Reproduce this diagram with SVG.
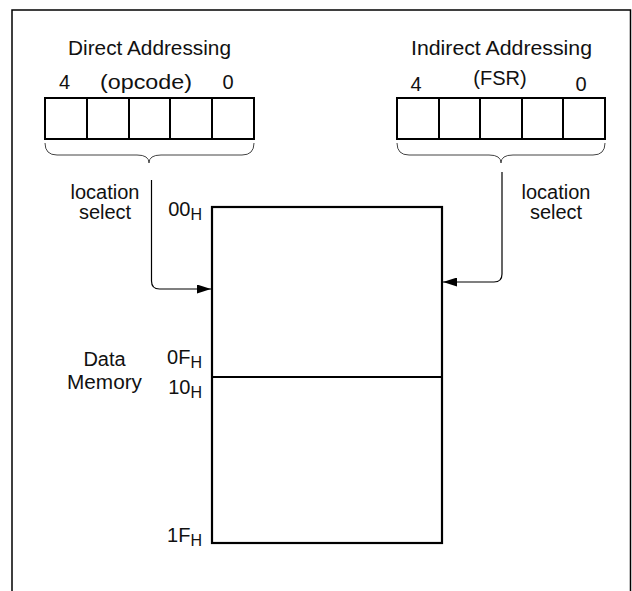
<svg xmlns="http://www.w3.org/2000/svg" width="632" height="591" viewBox="0 0 632 591">
<style>
text{font-family:"Liberation Sans",Arial,sans-serif;font-size:20px;fill:#111}
.mid{text-anchor:middle}
.end{text-anchor:end}
.sub{font-size:16px}
.reg{fill:#fff;stroke:#000;stroke-width:2}
.cell{stroke:#000;stroke-width:2}
.brace{fill:none;stroke:#444;stroke-width:1}
.conn{fill:none;stroke:#000;stroke-width:1.2}
.mem{fill:#fff;stroke:#000;stroke-width:2.2}
</style>
<defs>
<marker id="arr" markerUnits="userSpaceOnUse" markerWidth="15" markerHeight="9" refX="14" refY="4.5" orient="auto">
<path d="M0,0 L14,4.5 L0,9 Z" fill="#000"/>
</marker>
</defs>
<g id="frame">
<path d="M12,591 L12,10 L630.5,10 L630.5,591" fill="none" stroke="#000" stroke-width="1.5"/>
</g>
<g id="direct">
<text class="mid" x="149.5" y="55" textLength="163" lengthAdjust="spacingAndGlyphs">Direct Addressing</text>
<text class="mid" x="64.5" y="89">4</text>
<text class="mid" x="146" y="89" textLength="92" lengthAdjust="spacingAndGlyphs">(opcode)</text>
<text class="mid" x="228" y="89">0</text>
<rect class="reg" x="45" y="98" width="209" height="41"/>
<line class="cell" x1="87" y1="98" x2="87" y2="139"/>
<line class="cell" x1="129" y1="98" x2="129" y2="139"/>
<line class="cell" x1="170" y1="98" x2="170" y2="139"/>
<line class="cell" x1="212" y1="98" x2="212" y2="139"/>
<path class="brace" d="M45,143 Q45,155 57,155 L137,155 Q149,155 149,163 Q149,155 161,155 L242,155 Q254,155 254,143"/>
<text class="mid" x="105" y="199">location</text>
<text class="mid" x="105" y="219">select</text>
</g>
<g id="indirect">
<text class="mid" x="501.5" y="55" textLength="181" lengthAdjust="spacingAndGlyphs">Indirect Addressing</text>
<text class="mid" x="416" y="91">4</text>
<text class="mid" x="500" y="85">(FSR)</text>
<text class="mid" x="581" y="91">0</text>
<rect class="reg" x="397" y="98" width="208" height="41"/>
<line class="cell" x1="439" y1="98" x2="439" y2="139"/>
<line class="cell" x1="480" y1="98" x2="480" y2="139"/>
<line class="cell" x1="522" y1="98" x2="522" y2="139"/>
<line class="cell" x1="563" y1="98" x2="563" y2="139"/>
<path class="brace" d="M397,143 Q397,155 409,155 L489,155 Q501,155 501,163 Q501,155 513,155 L593,155 Q605,155 605,143"/>
<text class="mid" x="556" y="199">location</text>
<text class="mid" x="556" y="219">select</text>
</g>
<g id="memory">
<rect class="mem" x="212" y="207" width="230" height="336"/>
<line x1="212" y1="377" x2="442" y2="377" stroke="#000" stroke-width="2.2"/>
<text class="end" x="202" y="216">00<tspan class="sub" dy="4">H</tspan></text>
<text class="end" x="202" y="364">0F<tspan class="sub" dy="4">H</tspan></text>
<text class="end" x="202" y="394">10<tspan class="sub" dy="4">H</tspan></text>
<text class="end" x="202" y="542">1F<tspan class="sub" dy="4">H</tspan></text>
<text class="mid" x="104.5" y="366">Data</text>
<text class="mid" x="104.5" y="389" textLength="75" lengthAdjust="spacingAndGlyphs">Memory</text>
</g>
<g id="connectors">
<path class="conn" d="M151.5,180 L151.5,281 Q151.5,289 159.5,289 L211,289" marker-end="url(#arr)"/>
<path class="conn" d="M502,172 L502,274 Q502,282 494,282 L443,282" marker-end="url(#arr)"/>
</g>
</svg>
